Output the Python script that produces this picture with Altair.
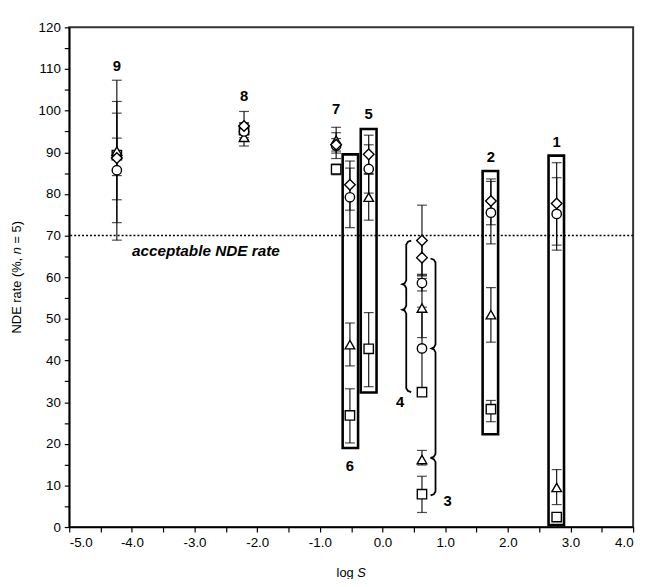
import altair as alt
import pandas as pd

# ---------------- data ----------------
groups = ["9", "8", "7", "6", "5", "4", "3", "2", "1"]
group_logS = [-4.24, -2.21, -0.74, -0.52, -0.22, 0.63, 0.63, 1.73, 2.78]

square_val = [89.3, 95.3, 85.9, 26.8, 42.8, 32.4, 7.9, 28.3, 2.4]
square_lo = [78.6, 93.5, 84.6, 20.2, 33.7, 31.9, 3.5, 25.3, 1.5]
square_hi = [99.4, 97.1, 87.2, 33.2, 51.5, 32.9, 12.2, 30.4, 3.3]

triangle_val = [90.3, 93.6, 92.9, 43.8, 79.2, 52.6, 16.2, 51.0, 9.5]
triangle_lo = [73.1, 91.5, 89.8, 38.7, 73.7, 45.5, 14.9, 44.4, 5.4]
triangle_hi = [107.3, 95.7, 96.0, 49.0, 84.7, 59.7, 18.4, 57.5, 13.8]

circle_val = [85.7, 95.0, 91.6, 79.2, 86.0, 58.6, 42.9, 75.5, 75.2]
circle_lo = [68.9, 93.0, 88.5, 71.9, 80.2, 56.7, 33.0, 68.0, 66.5]
circle_hi = [102.2, 97.0, 94.7, 86.2, 91.8, 60.5, 52.8, 83.0, 83.9]

diamond_val = [88.6, 96.3, 91.8, 82.2, 89.5, 68.8, 64.7, 78.3, 77.7]
diamond_lo = [84.4, 92.8, 90.3, 76.1, 84.9, 60.3, 60.7, 72.6, 67.7]
diamond_hi = [93.4, 99.8, 93.3, 87.9, 94.1, 77.3, 68.7, 83.6, 87.5]

label_x = [-4.24, -2.21, -0.74, -0.52, -0.22, 0.28, 1.04, 1.73, 2.78]
label_y = [110.7, 103.4, 100.3, 14.6, 99.2, 30.0, 6.3, 88.9, 92.5]

box_names = ["6", "5", "2", "1"]
box_left = [-0.636, -0.347, 1.598, 2.650]
box_right = [-0.390, -0.095, 1.845, 2.897]
box_top = [89.5, 95.6, 85.5, 89.2]
box_bottom = [19.0, 32.3, 22.3, 0.5]

# braces: spine x, top, bottom, cusp y-values, hook direction (+1 right, -1 left), cusp direction
brace_spine = [0.379, 0.846, 0.846]
brace_top = [68.8, 64.5, 16.6]
brace_bottom = [32.4, 16.6, 7.6]
brace_cusps = [[58.3, 52.2], [42.9], []]
brace_hook = [1, -1, -1]
brace_cusp_dir = [-1, -1, -1]

acceptable_rate = 70

# ---------------- geometry helpers (styles) ----------------
W, H = 571, 506
XMIN, XMAX, YMIN, YMAX = -5.0, 4.0, 0.0, 120.0
pxu_x = W / (XMAX - XMIN)
pxu_y = H / (YMAX - YMIN)

series = [
    ("square", square_val, square_lo, square_hi),
    ("triangle", triangle_val, triangle_lo, triangle_hi),
    ("circle", circle_val, circle_lo, circle_hi),
    ("diamond", diamond_val, diamond_lo, diamond_hi),
]

rows, caps = [], []
for name, vals, los, his in series:
    for g, x, v, lo, hi in zip(groups, group_logS, vals, los, his):
        rows.append({"group": g, "series": name, "x": x, "v": v, "lo": lo, "hi": hi})
        caps.append({"group": g, "series": name, "x": x, "y": lo})
        caps.append({"group": g, "series": name, "x": x, "y": hi})
df = pd.DataFrame(rows)
df_caps = pd.DataFrame(caps)

df_labels = pd.DataFrame({"t": groups, "x": label_x, "y": label_y})
df_boxes = pd.DataFrame({"b": box_names, "x": box_left, "x2": box_right,
                         "y": box_bottom, "y2": box_top})

hw = 5 / pxu_x
cw = 4 / pxu_x
ry = 4 / pxu_y
brace_rows = []
for i, (xs, yt, yb, cus, h, c) in enumerate(zip(brace_spine, brace_top, brace_bottom,
                                                 brace_cusps, brace_hook, brace_cusp_dir)):
    pts = [(xs + h * hw, yt), (xs + h * hw * 0.35, yt - 0.3 * ry), (xs, yt - ry)]
    for yc in cus:
        pts += [(xs, yc + ry), (xs + c * cw * 0.4, yc + 0.25 * ry), (xs + c * cw, yc),
                (xs + c * cw * 0.4, yc - 0.25 * ry), (xs, yc - ry)]
    pts += [(xs, yb + ry), (xs + h * hw * 0.35, yb + 0.3 * ry), (xs + h * hw, yb)]
    for k, (px, py) in enumerate(pts):
        brace_rows.append({"brace": i, "k": k, "x": px, "y": py})
df_braces = pd.DataFrame(brace_rows)

one = pd.DataFrame({"a": [0]})

FONT = "Liberation Sans"

xscale = alt.Scale(domain=[XMIN, XMAX], nice=False, zero=False)
yscale = alt.Scale(domain=[YMIN, YMAX], nice=False, zero=False)

xaxis = alt.Axis(values=[XMIN + 0.5 * i for i in range(19)],
                 labelExpr="datum.value % 1 == 0 ? (datum.value < 0 ? '-' : '') + format(abs(datum.value), '.1f') : ''",
                 tickSize=5, tickColor="black", tickWidth=1.2,
                 domainColor="black", domainWidth=1.5,
                 labelFontSize=13.5, labelColor="black", labelFont=FONT,
                 labelPadding=4, grid=False, title=None)
yaxis = alt.Axis(values=[5 * i for i in range(25)],
                 labelExpr="datum.value % 10 == 0 ? datum.label : ''",
                 tickSize=5, tickColor="black", tickWidth=1.2,
                 domainColor="black", domainWidth=1.5,
                 labelFontSize=13.5, labelColor="black", labelFont=FONT,
                 labelPadding=4, grid=False, title=None)

X = alt.X("x:Q", scale=xscale, axis=xaxis)
Y = alt.Y("y:Q", scale=yscale, axis=yaxis)

ref = alt.Chart(pd.DataFrame({"y": [acceptable_rate]})).mark_rule(
    color="black", strokeDash=[2, 2], strokeWidth=1.5).encode(y=Y)

bars = alt.Chart(df).mark_rule(color="black", strokeWidth=1.1).encode(
    x=X, y=alt.Y("lo:Q", scale=yscale, axis=yaxis), y2="hi:Q")

capm = alt.Chart(df_caps).mark_tick(orient="horizontal", size=10, thickness=1.2,
                                     color="black").encode(x=X, y=Y)

boxes = alt.Chart(df_boxes).mark_rect(fillOpacity=0, fill="white", stroke="black",
                                      strokeWidth=2.6).encode(
    x=X, x2="x2:Q", y=Y, y2="y2:Q")

braces = alt.Chart(df_braces).mark_line(color="black", strokeWidth=1.8,
                                        interpolate="linear").encode(
    x=X, y=Y, detail="brace:N", order="k:Q")

def pts(name, shape, size):
    return alt.Chart(df[df.series == name]).mark_point(
        shape=shape, size=size, filled=True, fill="white", stroke="black",
        strokeWidth=1.4, opacity=1).encode(x=X, y=alt.Y("v:Q", scale=yscale, axis=yaxis))

sq = pts("square", "square", 90)
tr = pts("triangle", "triangle-up", 95)
ci = pts("circle", "circle", 90)
di = pts("diamond", "diamond", 115)

labels = alt.Chart(df_labels).mark_text(font=FONT, fontSize=15,
                                        fontWeight="bold", color="black",
                                        baseline="middle").encode(
    x=X, y=Y, text="t:N")

acc = alt.Chart(pd.DataFrame({"x": [-4.0], "y": [66.2], "t": ["acceptable NDE rate"]})).mark_text(
    font=FONT, fontSize=15.5, fontWeight="bold", fontStyle="italic", color="black",
    align="left", baseline="middle").encode(x=X, y=Y, text="t:N")

def title_text(txt, x, y, italic=False, angle=0):
    kw = dict(font=FONT, fontSize=13, color="black", align="left", baseline="middle",
              text=txt)
    if italic:
        kw["fontStyle"] = "italic"
    if angle:
        kw["angle"] = angle
    return alt.Chart(one).mark_text(**kw).encode(x=alt.value(x), y=alt.value(y))

xt1 = title_text("log", 270.7, 553)
xt2 = title_text("S", 291.6, 553, italic=True)
yt1 = title_text("NDE rate (%,", -53, 309.9, angle=270)
yt2 = title_text("n", -53, 229.7, angle=270, italic=True)
yt3 = title_text("= 5)", -53, 218.9, angle=270)

chart = alt.layer(ref, bars, capm, boxes, braces, sq, tr, ci, di, labels, acc,
                  xt1, xt2, yt1, yt2, yt3).properties(
    width=W, height=H,
    autosize=alt.AutoSizeParams(type="none"),
    padding={"left": 62, "top": 16, "right": 10, "bottom": 49},
    background="white",
).configure_view(stroke="#333333", strokeWidth=2)

chart.save("out.html", embed_options={"renderer": "svg", "actions": False})
